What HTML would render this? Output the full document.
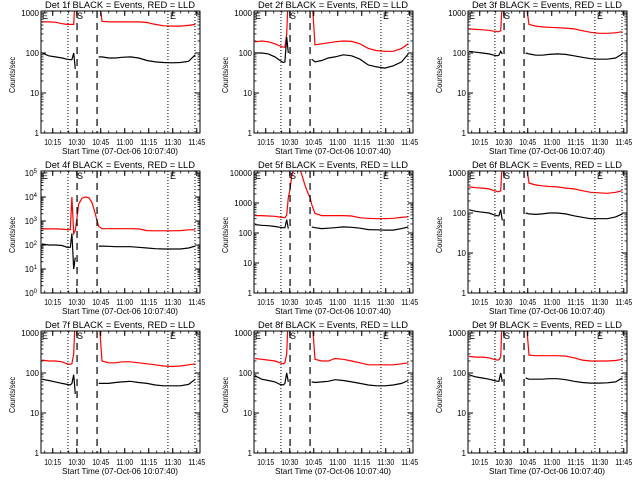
<!DOCTYPE html>
<html><head><meta charset="utf-8"><style>
html,body{margin:0;padding:0;background:#fff;}
svg{display:block;font-family:"Liberation Sans",sans-serif;}
</style></head>
<body>
<svg id="chart" width="640" height="480" viewBox="0 0 640 480" xmlns="http://www.w3.org/2000/svg"></svg>
<script>
// minutes after 10:00
const times = [8.3,12.5,16.6,20.8,23.9,26.0,27.0,28.1,29.1,30.2,31.2,33.3,35.4,37.5,39.5,41.6,42.7,43.7,45.8,50.0,54.1,58.3,63.5,68.7,73.9,79.1,84.3,89.5,94.7,99.9,104.1];
const N = null;
const detNames = ["Det 1f","Det 2f","Det 3f","Det 4f","Det 5f","Det 6f","Det 7f","Det 8f","Det 9f"];
const tickTimes = [15,30,45,60,75,90,105];
const tickLabels = ["10:15","10:30","10:45","11:00","11:15","11:30","11:45"];
const red1 = [600,600,590,540,520,520,520,520,3000,N,N,N,N,N,N,N,N,3000,620,600,600,600,600,600,580,520,480,470,470,490,520];
const blk1 = [100,85,80,75,70,68,68,100,40,N,N,N,N,N,N,N,N,80,80,75,75,78,80,75,65,60,58,57,58,62,90];
const red2 = [190,200,190,170,150,140,140,300,3000,N,N,N,N,N,N,N,N,3000,160,170,180,190,200,195,170,130,115,110,110,130,170];
const blk2 = [100,100,95,80,65,58,60,250,100,N,N,N,N,N,N,N,N,70,60,65,75,80,90,85,70,50,45,42,48,60,95];
const red3 = [400,390,380,370,350,340,340,360,2000,N,N,N,N,N,N,N,N,2000,520,470,450,440,430,420,400,360,330,310,310,320,340];
const blk3 = [110,105,100,95,88,85,88,110,95,N,N,N,N,N,N,N,N,100,95,88,88,92,95,92,85,78,72,70,70,75,95];
const red4 = [470,470,470,460,440,440,10000,300,400,1500,5000,9000,10000,9500,6000,2000,1000,600,480,480,480,480,480,470,400,390,390,390,400,430,430];
const blk4 = [110,100,100,95,80,80,300,10,30,N,N,N,N,N,N,N,N,90,90,88,85,85,85,80,75,70,68,68,68,75,90];
const red5 = [380,380,370,360,340,330,320,400,1500,3000,8000,20000,20000,9000,4000,2000,1500,900,450,380,380,380,380,370,320,310,300,300,310,330,350];
const blk5 = [190,180,175,165,155,150,150,280,140,N,N,N,N,N,N,N,N,160,150,140,145,150,160,155,145,130,128,125,125,140,160];
const red6 = [450,430,420,400,360,340,340,360,2000,N,N,N,N,N,N,N,N,2000,560,500,480,460,450,420,400,360,330,320,310,330,360];
const blk6 = [120,110,105,100,90,85,85,120,65,N,N,N,N,N,N,N,N,100,95,92,95,100,100,95,85,78,72,72,72,80,95];
const red7 = [210,200,200,190,170,165,170,300,3000,N,N,N,N,N,N,N,N,3000,200,180,180,190,190,180,170,160,150,145,150,160,170];
const blk7 = [70,65,60,55,52,50,55,90,30,N,N,N,N,N,N,N,N,55,55,55,58,60,62,58,55,50,48,48,48,52,70];
const red8 = [230,220,210,200,180,170,180,300,3000,N,N,N,N,N,N,N,N,3000,220,200,200,230,220,200,180,160,160,160,160,170,180];
const blk8 = [85,70,65,60,52,50,55,100,60,N,N,N,N,N,N,N,N,60,58,60,62,68,65,60,55,50,48,48,50,55,65];
const red9 = [260,250,250,240,220,210,215,250,3000,N,N,N,N,N,N,N,N,3000,280,270,270,270,270,265,240,210,200,200,200,205,220];
const blk9 = [90,80,75,70,65,62,62,100,60,N,N,N,N,N,N,N,N,75,70,70,70,72,72,68,62,58,56,56,57,60,75];
const redSeries = [red1,red2,red3,red4,red5,red6,red7,red8,red9];
const blackSeries = [blk1,blk2,blk3,blk4,blk5,blk6,blk7,blk8,blk9];
const decadeMax = [3,3,3,5,4,3,3,3,3];
const dottedTimes = [24.5,87.0,103.9];
const dashedTimes = [30.2,42.7];

const NS = "http://www.w3.org/2000/svg";
const svg = document.getElementById("chart");
function mk(tag, attrs, parent, text){
  const e = document.createElementNS(NS, tag);
  for (const k in attrs) e.setAttribute(k, attrs[k]);
  if (text !== undefined) e.textContent = text;
  parent.appendChild(e);
  return e;
}
const L=41, R=200, T=11, B=133;
function xOf(t){ return 41 + (t-7.667)*1.6; }

for (let p=0;p<9;p++){
  const ox = [0,213,427][p%3], oy = [0,160,320][Math.floor(p/3)];
  const g = mk("g",{transform:`translate(${ox},${oy})`},svg);
  
  
  const dmax = decadeMax[p];
  const yTop1 = 13;
  const per = (B - yTop1)/dmax;
  const yOf = v => B - Math.log10(v)*per;
  const cid = "clip"+p;
  const cp = mk("clipPath",{id:cid},g);
  mk("rect",{x:L,y:T,width:R-L,height:B-T},cp);

  const title = mk("text",{x:120,y:8,"font-size":9,"text-anchor":"middle",textLength:150,lengthAdjust:"spacingAndGlyphs"},g,detNames[p]+" BLACK = Events, RED = LLD");
  
  

  const drawSeries = (arr, color, name) => {
    let d = "", pen = false;
    for (let i=0;i<times.length;i++){
      if (arr[i] === null){ pen=false; continue; }
      d += (pen?"L":"M") + xOf(times[i]).toFixed(1) + "," + yOf(arr[i]).toFixed(1);
      pen = true;
    }
    const path = mk("path",{d:d,fill:"none",stroke:color,"stroke-width":1.2,"clip-path":`url(#${cid})`},g);
    
    
  };
  drawSeries(redSeries[p], "#ff0000", "lld-series-red");
  drawSeries(blackSeries[p], "#000000", "events-series-black");

  dottedTimes.forEach(t=>{
    const l = mk("line",{x1:xOf(t),x2:xOf(t),y1:T,y2:B,stroke:"#000","stroke-width":1,"stroke-dasharray":"1,2"},g);
    
    
  });
  dashedTimes.forEach(t=>{
    const l = mk("line",{x1:xOf(t),x2:xOf(t),y1:T,y2:B,stroke:"#000","stroke-width":1.2,"stroke-dasharray":"7,5"},g);
    
    
  });
  [["E",42],["S",77],["E",170]].forEach(m=>{
    const tx = mk("text",{x:m[1],y:19,"font-size":9},g,m[0]);
    
    
  });

  const frame = mk("rect",{x:L,y:T,width:R-L,height:B-T,fill:"none",stroke:"#000","stroke-width":1},g);
  
  

  for (let d=0; d<=dmax; d++){
    const y = yOf(Math.pow(10,d));
    mk("line",{x1:L,x2:L+5,y1:y,y2:y,stroke:"#000"},g);
    mk("line",{x1:R,x2:R-5,y1:y,y2:y,stroke:"#000"},g);
    for (let m=2;m<10;m++){
      const ym = yOf(m*Math.pow(10,d));
      if (ym < T) break;
      mk("line",{x1:L,x2:L+2.5,y1:ym,y2:ym,stroke:"#000","stroke-width":0.8},g);
      mk("line",{x1:R,x2:R-2.5,y1:ym,y2:ym,stroke:"#000","stroke-width":0.8},g);
    }
    let lbl;
    if (p===3){
      lbl = mk("text",{x:37,y:y+3,"font-size":8,"text-anchor":"end"},g);
      mk("tspan",{},lbl,"10");
      mk("tspan",{dy:-3,"font-size":6},lbl,String(d));
    } else {
      lbl = mk("text",{x:39,y:y+3,"font-size":8,"text-anchor":"end"},g,String(Math.pow(10,d)));
    }
    
    
  }
  tickTimes.forEach((t,i)=>{
    const x = xOf(t);
    mk("line",{x1:x,x2:x,y1:B,y2:B-5,stroke:"#000"},g);
    mk("line",{x1:x,x2:x,y1:T,y2:T+5,stroke:"#000"},g);
    const lb = mk("text",{x:x,y:145,"font-size":8,"text-anchor":"middle",textLength:17,lengthAdjust:"spacingAndGlyphs"},g,tickLabels[i]);
    
    
  });
  for (let t=10; t<=105; t+=5){
    const x = xOf(t);
    if (x<L||x>R) continue;
    mk("line",{x1:x,x2:x,y1:B,y2:B-2.5,stroke:"#000","stroke-width":0.8},g);
    mk("line",{x1:x,x2:x,y1:T,y2:T+2.5,stroke:"#000","stroke-width":0.8},g);
  }
  const xl = mk("text",{x:120,y:154,"font-size":8.5,"text-anchor":"middle",textLength:116,lengthAdjust:"spacingAndGlyphs"},g,"Start Time (07-Oct-06 10:07:40)");
  
  
  const yl = mk("text",{x:0,y:0,"font-size":8,"text-anchor":"middle",transform:"translate(15,75) rotate(-90)",textLength:36,lengthAdjust:"spacingAndGlyphs"},g,"Counts/sec");
  
  
}
</script>
</body></html>
